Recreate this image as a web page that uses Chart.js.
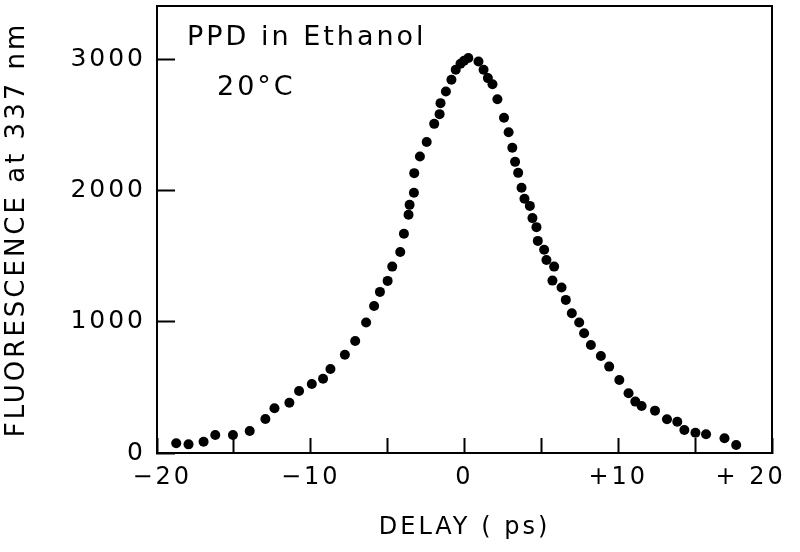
<!DOCTYPE html>
<html>
<head>
<meta charset="utf-8">
<script src="https://cdn.jsdelivr.net/npm/chart.js@4.4.1/dist/chart.umd.min.js"></script>
<style>
  html, body { margin: 0; padding: 0; background: #fff; }
  #fluoChart { display: block; }
</style>
</head>
<body>
<canvas id="fluoChart" width="800" height="552"></canvas>
<script>
// delay (ps) and fluorescence
var delay = [-18.75, -17.95, -16.97, -16.21, -15.06, -13.97, -12.95, -12.36, -11.39, -10.76,
  -9.93, -9.20, -8.72, -7.78, -7.11, -6.40, -5.88, -5.50, -5.00, -4.70,
  -4.18, -3.94, -3.64, -3.57, -3.29, -3.27, -2.90, -2.46, -1.97, -1.62,
  -1.56, -1.21, -0.85, -0.57, -0.26, -0.03, 0.25, 0.91, 1.24, 1.52,
  1.82, 2.14, 2.57, 2.87, 3.11, 3.29, 3.49, 3.71, 3.90, 4.25,
  4.42, 4.68, 4.77, 5.18, 5.33, 5.83, 5.72, 6.31, 6.59, 6.98,
  7.46, 7.78, 8.22, 8.87, 9.41, 10.07, 10.67, 11.11, 11.52, 12.39,
  13.17, 13.84, 14.30, 15.02, 15.71, 16.91, 17.67];
var fluorescence = [74, 66, 86, 137, 137, 168, 260, 341, 384, 473,
  527, 567, 641, 750, 855, 995, 1122, 1229, 1313, 1422,
  1534, 1672, 1817, 1893, 1985, 2135, 2262, 2372, 2511, 2585,
  2669, 2758, 2847, 2924, 2969, 2992, 3013, 2987, 2924, 2860,
  2813, 2698, 2557, 2447, 2328, 2221, 2137, 2023, 1940, 1885,
  1792, 1723, 1618, 1550, 1473, 1422, 1315, 1262, 1168, 1066,
  995, 914, 824, 740, 659, 557, 456, 392, 359, 323,
  257, 239, 176, 155, 143, 112, 61];
var xTicks = [-20, -15, -10, -5, 0, 5, 10, 15, 20];
// the end labels sit a little inside the frame, padded with spaces
var xTickLabels = { '-20': ' \u221220', '-10': '\u221210', '0': '0', '10': '+10', '20': '+ 20    ' };
var yTicks = [0, 1000, 2000, 3000];
var notes = ['PPD in Ethanol', '20\u00b0C'];

var FONT = 'DejaVu Sans';
var SPACING = '3px';

// wide plotter-like lettering + closed frame + corner notes
var plotterPlugin = {
  id: 'plotter',
  beforeUpdate: function(chart) { chart.ctx.letterSpacing = SPACING; },
  beforeDraw: function(chart) { chart.ctx.letterSpacing = SPACING; },
  afterDraw: function(chart) {
    var ctx = chart.ctx, a = chart.chartArea;
    ctx.save();
    ctx.strokeStyle = '#000';
    ctx.lineWidth = 2;
    ctx.beginPath();
    ctx.moveTo(a.left, a.top);
    ctx.lineTo(a.right, a.top);
    ctx.lineTo(a.right, a.bottom);
    ctx.stroke();
    ctx.fillStyle = '#000';
    ctx.font = '27px "' + FONT + '"';
    ctx.textBaseline = 'alphabetic';
    ctx.fillText(notes[0], a.left + 30, a.top + 39);
    ctx.fillText(notes[1], a.left + 60, a.top + 89);
    ctx.restore();
  }
};

function noPadding(scale) {
  scale.paddingLeft = 0;
  scale.paddingRight = 0;
  scale.paddingTop = 0;
  scale.paddingBottom = 0;
}

function initFluoChart() {
  var points = delay.map(function(d, i) { return { x: d, y: fluorescence[i] }; });

  var ctx = document.getElementById('fluoChart');
  new Chart(ctx, {
    type: 'scatter',
    data: {
      datasets: [{
        data: points,
        backgroundColor: '#000',
        borderWidth: 0,
        pointRadius: 5,
        pointHoverRadius: 5
      }]
    },
    options: {
      responsive: false,
      animation: false,
      layout: { padding: { top: 6, right: 28, left: 0, bottom: 0 } },
      plugins: { legend: { display: false }, tooltip: { enabled: false } },
      scales: {
        x: {
          type: 'linear',
          min: -20,
          max: 20,
          afterBuildTicks: function(scale) {
            scale.ticks = xTicks.map(function(v) { return { value: v }; });
          },
          afterFit: function(scale) { scale.height = 99; noPadding(scale); },
          border: { display: true, color: '#000', width: 2 },
          grid: { drawOnChartArea: false, drawTicks: true, tickLength: -15, tickColor: '#000', tickWidth: 2 },
          ticks: {
            autoSkip: false,
            maxRotation: 0,
            padding: 25,
            color: '#000',
            font: { family: FONT, size: 24 },
            callback: function(v) { return xTickLabels[String(v)] || ''; }
          },
          title: {
            display: true,
            text: 'DELAY ( ps)',
            color: '#000',
            font: { family: FONT, size: 24 },
            padding: { top: 0, bottom: 10 }
          }
        },
        y: {
          min: 0,
          max: 3410,
          afterBuildTicks: function(scale) {
            scale.ticks = yTicks.map(function(v) { return { value: v }; });
          },
          afterFit: function(scale) { scale.width = 157; noPadding(scale); },
          border: { display: true, color: '#000', width: 2 },
          grid: { drawOnChartArea: false, drawTicks: true, tickLength: -18, tickColor: '#000', tickWidth: 2 },
          ticks: {
            padding: 29,
            color: '#000',
            font: { family: FONT, size: 25 },
            callback: function(v) { return String(v); }
          },
          title: {
            display: true,
            text: 'FLUORESCENCE at 337 nm',
            color: '#000',
            font: { family: FONT, size: 26 },
            padding: { top: 2, bottom: 0 }
          }
        }
      }
    },
    plugins: [plotterPlugin]
  });
}

initFluoChart();
</script>
</body>
</html>
